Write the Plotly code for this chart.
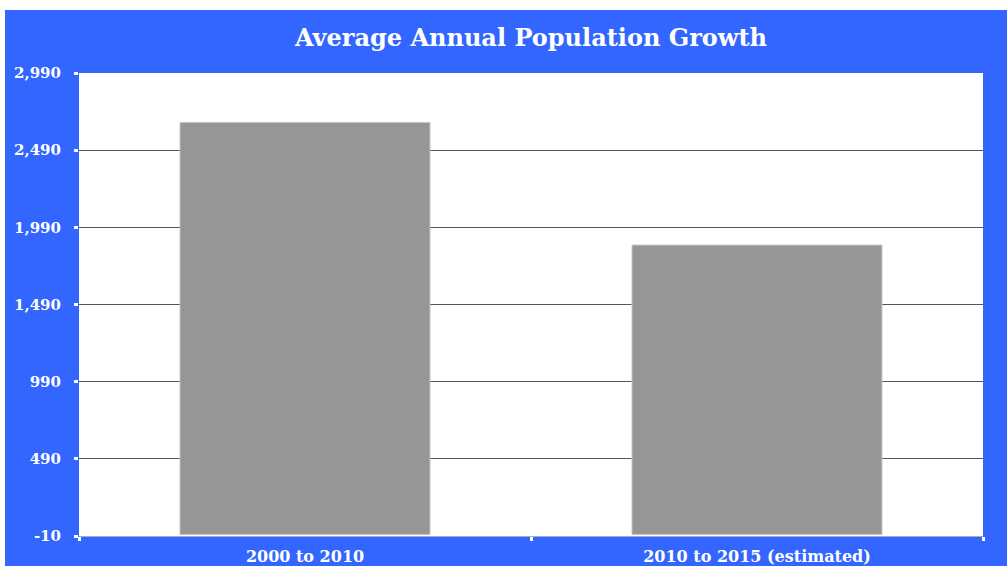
import plotly.graph_objects as go

categories = ["2000 to 2010", "2010 to 2015 (estimated)"]
values = [2670, 1875]
tick_vals = [-10, 490, 990, 1490, 1990, 2490, 2990]
tick_text = ["-10", "490", "990", "1,490", "1,990", "2,490", "2,990"]
title_text = "Average Annual Population Growth"

BLUE = "#3366FF"
font_serif = "DejaVu Serif"

fig = go.Figure()
fig.add_trace(go.Bar(
    x=categories, y=values,
    marker=dict(color="#969696", line=dict(color="#c4c4c4", width=1)),
    width=0.553,
))

fig.update_layout(
    width=1007, height=566,
    paper_bgcolor=BLUE, plot_bgcolor="white",
    margin=dict(l=79, r=24, t=73, b=30, autoexpand=False),
    showlegend=False,
    title=dict(text="<b>" + title_text + "</b>", x=0.5, xanchor="center",
               xref="paper", y=1 - 38 / 566, yanchor="middle",
               font=dict(family=font_serif, size=24, color="white")),
    shapes=[
        dict(type="rect", xref="paper", yref="paper", x0=-0.2, x1=1.2,
             y0=1 + 63 / 463, y1=1.5, fillcolor="white", line=dict(width=0), layer="below"),
        dict(type="rect", xref="paper", yref="paper", x0=-0.2, x1=-74 / 904,
             y0=-0.5, y1=1.5, fillcolor="white", line=dict(width=0), layer="below"),
    ],
    xaxis=dict(
        automargin=False,
        showgrid=False, showline=True, linecolor="#a7adbd", linewidth=1,
        ticks="outside", tickson="boundaries", tickcolor="white", ticklen=4, tickwidth=3,
        tickfont=dict(family=font_serif, size=16, color="white", weight="bold"),
        ticklabelstandoff=6,
    ),
    yaxis=dict(
        automargin=False,
        range=[-10, 2990], tickvals=tick_vals, ticktext=tick_text,
        showgrid=True, gridcolor="#555555", gridwidth=1,
        zeroline=False, showline=False,
        ticks="outside", tickcolor="white", ticklen=4, tickwidth=3,
        tickfont=dict(family=font_serif, size=15, color="white", weight="bold"),
        ticklabelstandoff=10,
    ),
    bargap=0.447,
)

fig.write_html("out.html")
